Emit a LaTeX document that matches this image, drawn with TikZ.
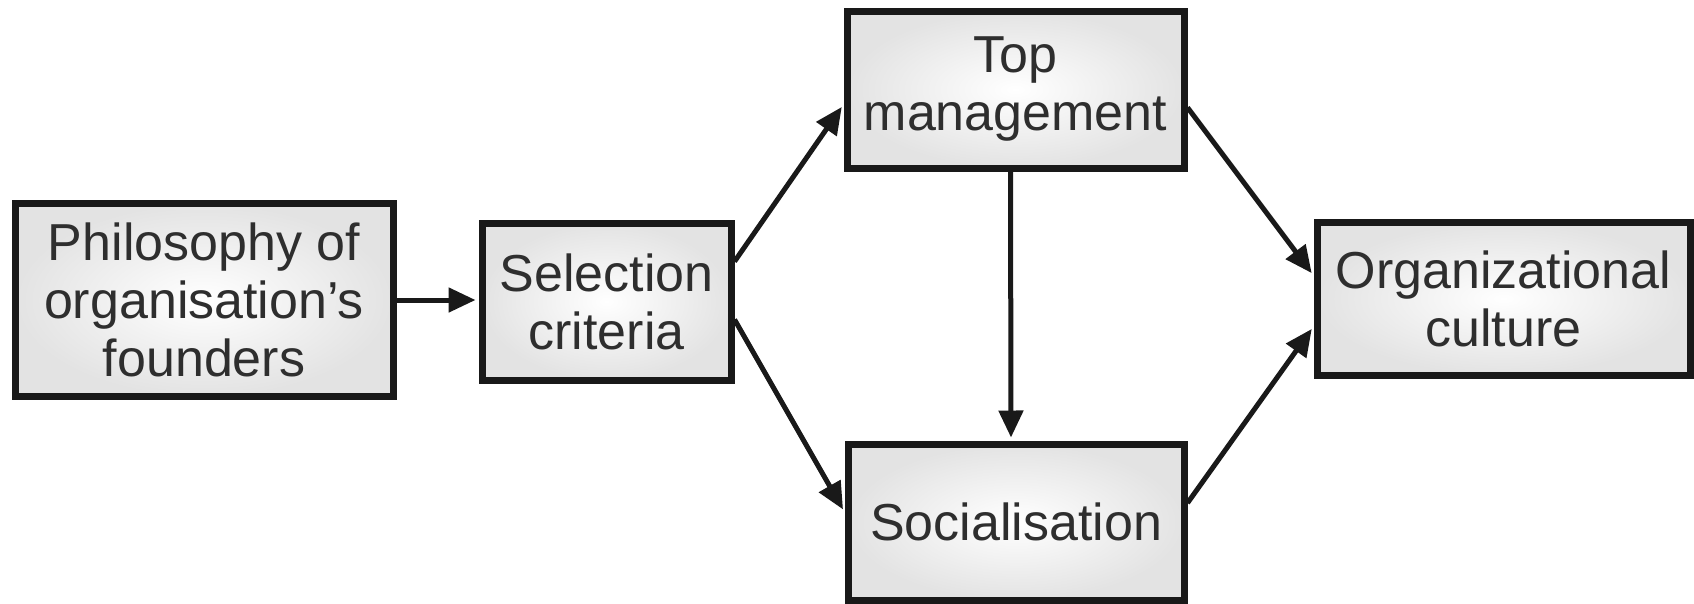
\documentclass[tikz,border=0pt]{standalone}
\usepackage{fontspec}
\setmainfont{Liberation Sans}
\usetikzlibrary{arrows.meta}

\tikzset{
  block/.style={
    draw=black!90, line width=7pt, rectangle, inner sep=0pt,
    shading=radial, inner color=white, outer color=gray!22,
    text=black!82, align=center,
    font=\fontsize{52}{58}\selectfont
  },
  arr/.style={
    draw=black!90, line width=5pt,
    -{Triangle[length=27pt,width=24pt]}, shorten >=3pt
  }
}

\begin{document}
\begin{tikzpicture}[x=1pt, y=-1pt]
  % canvas in pixel units, origin top-left
  \useasboundingbox[fill=white] (0,0) rectangle (1694,603);

  % boxes
  \node[block, minimum width=378pt, minimum height=193pt] (phil) at (204,300)
    {Philosophy of\\organisation's\\founders};
  \node[block, minimum width=249pt, minimum height=157pt] (sel) at (606.5,301.5)
    {Selection\\criteria};
  \node[block, minimum width=337pt, minimum height=157pt] (top) at (1015.5,89.5)
    {Top\\management};
  \node[block, minimum width=336pt, minimum height=156pt] (soc) at (1016,522)
    {Socialisation};
  \node[block, minimum width=373pt, minimum height=153pt] (org) at (1503.5,298.5)
    {Organizational\\culture};

  % connectors
  \draw[arr] (phil.east) -- (phil.east -| sel.west);
  \draw[arr] ([yshift=40pt]sel.east) -- ([yshift=-15pt]top.west);
  \draw[arr] ([yshift=-18pt]sel.east) -- ([yshift=10pt]soc.west);
  \draw[arr] ([xshift=-5pt]top.south) -- ([xshift=-5pt]soc.north);
  \draw[arr] ([yshift=-18pt]top.east) -- ([yshift=23pt]org.west);
  \draw[arr] ([yshift=19pt]soc.east) -- ([yshift=-28pt]org.west);
\end{tikzpicture}
\end{document}
